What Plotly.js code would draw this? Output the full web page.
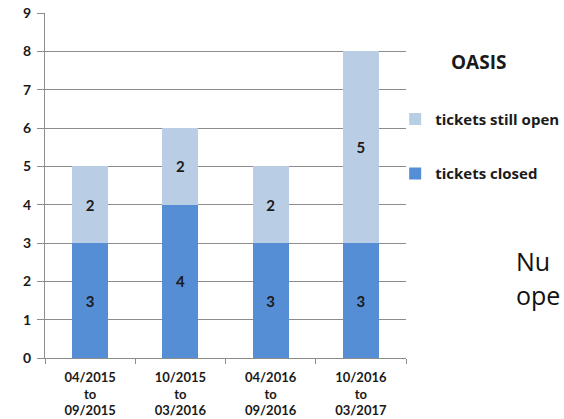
<!DOCTYPE html>
<html>
<head>
<meta charset="utf-8">
<script src="https://cdn.plot.ly/plotly-3.0.1.min.js"></script>
<style>html,body{margin:0;padding:0;background:#fff;overflow:hidden}#chart{width:564px;height:419px}</style>
</head>
<body>
<div id="chart"></div>
<script>
const categories = ["04/2015<br>to<br>09/2015", "10/2015<br>to<br>03/2016", "04/2016<br>to<br>09/2016", "10/2016<br>to<br>03/2017"];
const ticketsClosed = [3, 4, 3, 3];
const ticketsStillOpen = [2, 2, 2, 5];
const yTicks = [0, 1, 2, 3, 4, 5, 6, 7, 8, 9];

const FONT = "Lato, 'Open Sans', sans-serif";
const FONT2 = "'Open Sans', Lato, sans-serif";

const traces = [
  {
    type: "bar", name: "tickets closed", x: categories, y: ticketsClosed,
    marker: {color: "#558ED5"}, legendgroup: "a", legendrank: 2,
    text: ticketsClosed.map(String), textposition: "inside", insidetextanchor: "middle",
    textfont: {family: FONT, size: 15, color: "#1a1a1a", weight: "bold"},
    hoverinfo: "skip"
  },
  {
    type: "bar", name: "tickets still open", x: categories, y: ticketsStillOpen,
    marker: {color: "#B9CDE5"}, legendgroup: "b", legendrank: 1,
    text: ticketsStillOpen.map(String), textposition: "inside", insidetextanchor: "middle",
    textfont: {family: FONT, size: 15, color: "#1a1a1a", weight: "bold"},
    hoverinfo: "skip"
  }
];

const layout = {
  width: 564, height: 419,
  margin: {l: 45, r: 158, t: 13, b: 61, pad: 0, autoexpand: false},
  paper_bgcolor: "#fff", plot_bgcolor: "#fff",
  barmode: "stack", bargap: 0.6,
  font: {family: FONT, color: "#1a1a1a"},
  xaxis: {
    type: "category", range: [-0.5, 3.5],
    showgrid: false, showline: true, linecolor: "#8c8c8c", linewidth: 1,
    ticks: "outside", ticklen: 5, tickcolor: "#8c8c8c", tickson: "boundaries",
    tickfont: {family: FONT, size: 13, color: "#1a1a1a", weight: "bold"},
    ticklabelstandoff: 7,
    fixedrange: true
  },
  yaxis: {
    range: [0, 9], tickvals: yTicks,
    showgrid: true, gridcolor: "#8c8c8c", gridwidth: 1,
    zeroline: false, showline: true, linecolor: "#8c8c8c", linewidth: 1,
    ticks: "outside", ticklen: 7, tickcolor: "#8c8c8c",
    tickfont: {family: FONT, size: 14, color: "#1a1a1a", weight: "bold"},
    ticklabelstandoff: 3,
    fixedrange: true
  },
  showlegend: true,
  legend: {
    x: 0.97, xref: "paper", xanchor: "left", y: 0.74, yanchor: "top",
    traceorder: "grouped", tracegroupgap: 32,
    font: {family: FONT2, size: 15, color: "#1a1a1a", weight: "bold"},
    bgcolor: "rgba(0,0,0,0)", itemclick: false, itemdoubleclick: false
  },
  annotations: [
    {text: "<b>OASIS</b>", xref: "paper", yref: "paper", x: 1.2, y: 0.858, xanchor: "center", yanchor: "middle",
     showarrow: false, font: {family: FONT2, size: 19, color: "#1a1a1a"}},
    {text: "Nu", xref: "paper", yref: "paper", x: 1.3, y: 0.281, xanchor: "left", yanchor: "middle",
     showarrow: false, font: {family: "'Open Sans', sans-serif", size: 25, color: "#111"}},
    {text: "ope", xref: "paper", yref: "paper", x: 1.3, y: 0.184, xanchor: "left", yanchor: "middle",
     showarrow: false, font: {family: "'Open Sans', sans-serif", size: 25, color: "#111"}}
  ]
};

Plotly.newPlot("chart", traces, layout, {displayModeBar: false, staticPlot: true});
</script>
</body>
</html>
